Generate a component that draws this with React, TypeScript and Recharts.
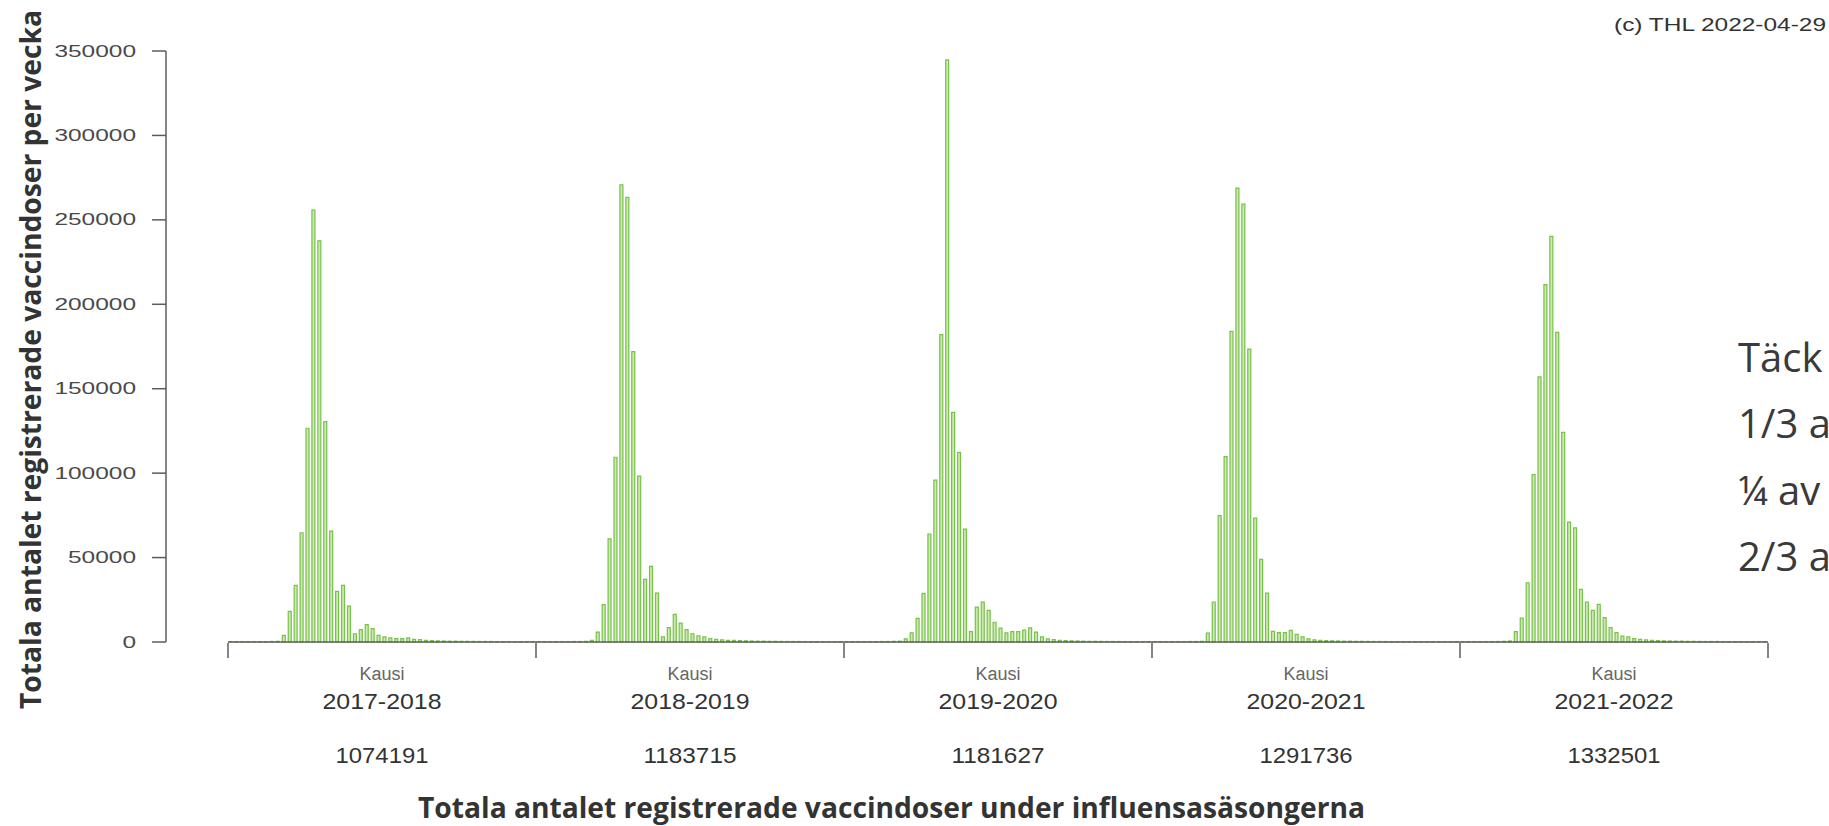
import React from 'react';
import { BarChart, Bar, XAxis, YAxis, ReferenceLine } from 'recharts';

// Kaudet ja kauden kokonaismäärät
const seasons = ['2017-2018', '2018-2019', '2019-2020', '2020-2021', '2021-2022'];
const seasonTotals = ['1074191', '1183715', '1181627', '1291736', '1332501'];
const yTicks = [0, 50000, 100000, 150000, 200000, 250000, 300000, 350000];

// Rokotusannokset viikoittain, 52 viikkoa per kausi
const weekly2017 = [
  150, 150, 200, 200, 200, 250, 250, 300, 400, 3900, 18100, 33500, 64700, 126600, 255800, 237600,
  130500, 65700, 30000, 33500, 21300, 4900, 7300, 10300, 7900, 3900, 3000, 2400, 2000, 2000, 2400,
  1600, 1400, 1000, 800, 700, 600, 500, 500, 400, 400, 350, 300, 300, 300, 250, 250, 250, 200, 200,
  200, 200,
];
const weekly2018 = [
  200, 200, 200, 200, 250, 250, 300, 300, 400, 1000, 5900, 22100, 61100, 109400, 270800, 263300,
  172000, 98200, 37100, 44800, 29000, 3000, 8500, 16400, 11200, 7300, 4900, 3700, 3000, 2000, 1600,
  1200, 1000, 1000, 800, 700, 600, 500, 500, 400, 400, 350, 300, 300, 300, 250, 250, 250, 200, 200,
  200, 200,
];
const weekly2019 = [
  200, 200, 200, 200, 250, 250, 300, 300, 400, 500, 1900, 5400, 14000, 28800, 63900, 95900, 182000,
  344700, 136000, 112300, 66900, 6100, 20600, 23600, 18700, 11700, 8200, 5400, 6100, 6100, 7000,
  8400, 5900, 3000, 1900, 1400, 1000, 800, 700, 600, 500, 400, 400, 350, 300, 300, 300, 250, 250,
  200, 200, 200,
];
const weekly2020 = [
  200, 200, 200, 200, 250, 250, 300, 300, 400, 5300, 23700, 74900, 109800, 184000, 268800, 259300,
  173500, 73400, 48900, 29000, 6300, 5500, 5500, 6900, 4500, 3000, 1800, 1200, 1000, 800, 700, 600,
  500, 500, 400, 400, 350, 300, 300, 300, 250, 250, 250, 200, 200, 200, 200, 200, 200, 200, 200, 200,
];
const weekly2021 = [
  200, 200, 200, 200, 250, 250, 300, 400, 600, 6100, 14200, 35100, 99200, 157000, 211600, 240200,
  183400, 124200, 71000, 67600, 31200, 23700, 18700, 22300, 14400, 8500, 5500, 3500, 3000, 2000,
  1600, 1200, 1000, 800, 700, 600, 500, 500, 400, 400, 350, 300, 300, 300, 250, 250, 250, 200, 200,
  200, 200, 200,
];

const weeklyBySeason = [weekly2017, weekly2018, weekly2019, weekly2020, weekly2021];
const WEEKS = 52;

const rows = weeklyBySeason.flatMap((weeks, s) =>
  weeks.map((doses, w) => ({ key: `${seasons[s]}-${w + 1}`, pos: s * WEEKS + w + 0.5, doses }))
);

// rajat kausien välillä ja kauden keskikohta
const markTicks = Array.from({ length: seasons.length * 2 + 1 }, (_, i) => (i * WEEKS) / 2);

const axisColor = '#5c5c5c';
const rFont = '"Liberation Sans", Arial, sans-serif';

const YTick = ({ x, y, payload }: any) => {
  const label = String(payload.value);
  return (
    <text
      x={x}
      y={y}
      textAnchor="end"
      dominantBaseline="central"
      fontSize={17}
      fontFamily={rFont}
      fill="#4a4a4a"
      textLength={label.length * 13.6}
      lengthAdjust="spacingAndGlyphs"
    >
      {label}
    </text>
  );
};

const SeasonTick = ({ x, y, payload }: any) => {
  const v = payload.value;
  if (v % WEEKS === 0) {
    return <line x1={x} y1={y + 1} x2={x} y2={y + 16} stroke={axisColor} strokeWidth={1.5} />;
  }
  const i = Math.floor(v / WEEKS);
  return (
    <g fontFamily={rFont}>
      <text x={x} y={y + 38} textAnchor="middle" fontSize={18} fill="#666">
        Kausi
      </text>
      <text x={x} y={y + 67} textAnchor="middle" fontSize={22} fill="#333" textLength={119} lengthAdjust="spacingAndGlyphs">
        {seasons[i]}
      </text>
      <text x={x} y={y + 121} textAnchor="middle" fontSize={22} fill="#333" textLength={93} lengthAdjust="spacingAndGlyphs">
        {seasonTotals[i]}
      </text>
    </g>
  );
};

const App = () => {
  return (
    <div style={{ position: 'absolute', left: 0, top: 0, width: 1829, height: 826, background: '#fff' }}>
      <BarChart width={1829} height={826} data={rows} margin={{ top: 51, right: 61, bottom: 0, left: 0 }}>
        <XAxis dataKey="key" hide height={0} padding={{ left: 62, right: 0 }} />
        <XAxis
          xAxisId="marks"
          dataKey="pos"
          type="number"
          domain={[0, seasons.length * WEEKS]}
          allowDataOverflow
          ticks={markTicks}
          interval={0}
          padding={{ left: 62, right: 0 }}
          height={184}
          axisLine={false}
          tickLine={false}
          tickSize={0}
          tickMargin={0}
          tick={<SeasonTick />}
        />
        <YAxis
          domain={[0, 350000]}
          ticks={yTicks}
          interval={0}
          width={166}
          tickSize={14}
          tickMargin={16}
          axisLine={{ stroke: axisColor, strokeWidth: 1.5 }}
          tickLine={{ stroke: axisColor, strokeWidth: 1.5 }}
          tick={<YTick />}
        />
        <ReferenceLine
          xAxisId="marks"
          segment={[
            { x: 0, y: 0 },
            { x: seasons.length * WEEKS, y: 0 },
          ]}
          stroke={axisColor}
          strokeWidth={1.5}
        />
        <Bar dataKey="doses" barSize={3} fill="#cbe9b3" stroke="#78c248" strokeWidth={1.2} isAnimationActive={false} />
      </BarChart>

      {/* tekstit dian päällä */}
      <svg
        width={1829}
        height={826}
        style={{ position: 'absolute', left: 0, top: 0, pointerEvents: 'none' }}
      >
        <text x={1826} y={31} textAnchor="end" fontSize={19} fontFamily={rFont} fill="#333" textLength={212} lengthAdjust="spacingAndGlyphs">
          (c) THL 2022-04-29
        </text>
        <text
          x={41}
          y={359.5}
          transform="rotate(-90, 41, 359.5)"
          textAnchor="middle"
          fontSize={28}
          fontWeight={700}
          fontFamily='"Open Sans", sans-serif'
          fill="#333"
          textLength={699}
          lengthAdjust="spacingAndGlyphs"
        >
          Totala antalet registrerade vaccindoser per vecka
        </text>
        <text
          x={418}
          y={818}
          fontSize={28}
          fontWeight={700}
          fontFamily='"Open Sans", sans-serif'
          fill="#333"
          textLength={947}
          lengthAdjust="spacingAndGlyphs"
        >
          Totala antalet registrerade vaccindoser under influensasäsongerna
        </text>
        <g fontSize={40} fontFamily='"Open Sans", sans-serif' fill="#3a3a3a">
          <text x={1738} y={372}>Täck</text>
          <text x={1738} y={438}>1/3 a</text>
          <text x={1738} y={505}>¼ av</text>
          <text x={1738} y={571}>2/3 a</text>
        </g>
      </svg>
    </div>
  );
};

export default App;
